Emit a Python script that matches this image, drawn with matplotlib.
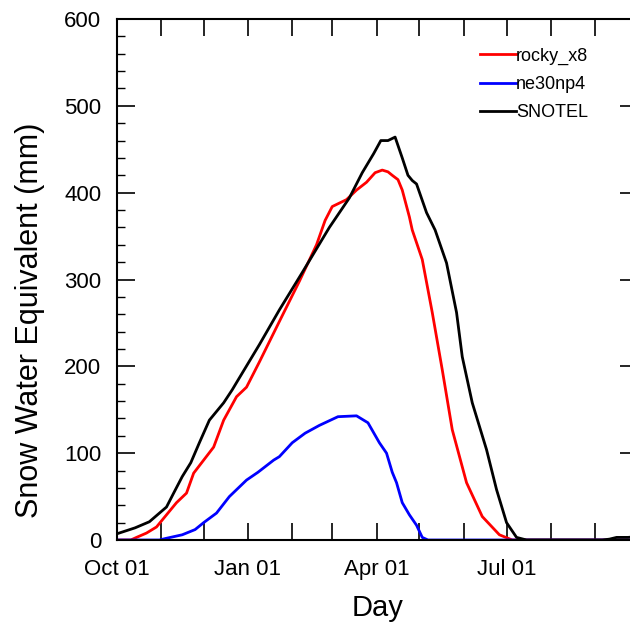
#!/usr/bin/env python3
# swe_snotel.py

import matplotlib
matplotlib.use("Agg")
import matplotlib.pyplot as plt

from matplotlib.ticker import MultipleLocator

# days since Oct 01, values in mm
snotel_day = [0, 13, 23, 35, 40, 46, 52, 58, 65, 75, 81, 85, 100, 114, 130,
              149, 163, 172, 180, 185, 190, 195, 200, 204, 207, 210, 217, 223,
              231, 238, 242, 249, 259, 266, 273, 280, 287, 340, 345, 350,
              358, 365]
snotel_swe = [7, 14, 21, 38, 54, 73, 89, 112, 138, 158, 173, 184, 225, 265, 308,
              360, 394, 423, 445, 460, 460, 464, 440, 420, 414, 410, 377, 357,
              319, 262, 211, 158, 104, 58, 20, 3, 0, 0, 1, 3, 3, 4]

rocky_day = [0, 10, 14, 21, 28, 35, 42, 49, 54, 61, 68, 75, 84, 91, 100, 115,
             128, 140, 146, 151, 161, 168, 175, 181, 186, 190, 193, 197, 200,
             205, 207, 214, 221, 228, 235, 245, 256, 268, 277, 365]
rocky_swe = [0, 0, 3, 8, 15, 29, 43, 54, 77, 92, 107, 138, 165, 176, 205, 255,
             298, 340, 368, 384, 392, 403, 412, 423, 426, 424, 420, 415, 403,
             372, 357, 323, 262, 196, 127, 66, 27, 6, 0, 0]

ne30_day = [0, 30, 35, 46, 55, 61, 70, 79, 91, 99, 110, 114, 123, 132, 142, 155,
            168, 176, 184, 189, 193, 196, 200, 205, 210, 214, 218, 365]
ne30_swe = [0, 0, 2, 6, 12, 20, 31, 50, 69, 78, 92, 96, 112, 123, 132, 142,
            143, 135, 112, 100, 78, 66, 43, 29, 17, 3, 0, 0]

month_days = [0, 31, 61, 92, 123, 151, 182, 212, 243, 273, 304, 335]
month_labels = ["Oct 01", "", "", "Jan 01", "", "", "Apr 01", "", "",
                "Jul 01", "", ""]


def plot(ax):
    ax.plot(rocky_day, rocky_swe, color="#ff0000", linewidth=2.0, label="rocky_x8")
    ax.plot(ne30_day, ne30_swe, color="#0000ff", linewidth=2.0, label="ne30np4")
    ax.plot(snotel_day, snotel_swe, color="black", linewidth=2.0, label="SNOTEL")

    ax.set_xlim(0, 365)
    ax.set_ylim(0, 600)

    ax.set_xticks(month_days)
    ax.set_xticklabels(month_labels)
    ax.yaxis.set_major_locator(MultipleLocator(100))
    ax.yaxis.set_minor_locator(MultipleLocator(20))

    ax.tick_params(axis="x", which="major", direction="in", length=12,
                   width=1.2, top=True, labelsize=16, pad=14)
    ax.tick_params(axis="y", which="major", direction="in", length=13,
                   width=1.2, right=True, labelsize=16, pad=11)
    ax.tick_params(axis="y", which="minor", direction="in", length=6,
                   width=1.0, right=True)

    for sp in ax.spines.values():
        sp.set_linewidth(1.5)

    ax.set_xlabel("Day", fontsize=21, labelpad=10)
    ax.set_ylabel("Snow Water Equivalent (mm)", fontsize=22)
    ax.yaxis.set_label_coords(-0.137, 0.422)

    ax.legend(loc="upper left", bbox_to_anchor=(0.697, 0.945), frameon=False,
              fontsize=13, handlelength=2.0, handletextpad=0.0,
              borderpad=0, borderaxespad=0, labelspacing=0.62)


def main():
    plt.rcParams["font.family"] = ["Liberation Sans", "DejaVu Sans"]
    fig = plt.figure(figsize=(6.3, 6.26), dpi=100)
    ax = fig.add_axes([116.5 / 630, 86 / 626, 521.5 / 630, 521 / 626])
    plot(ax)
    fig.savefig("out.png", dpi=100)


if __name__ == "__main__":
    main()
